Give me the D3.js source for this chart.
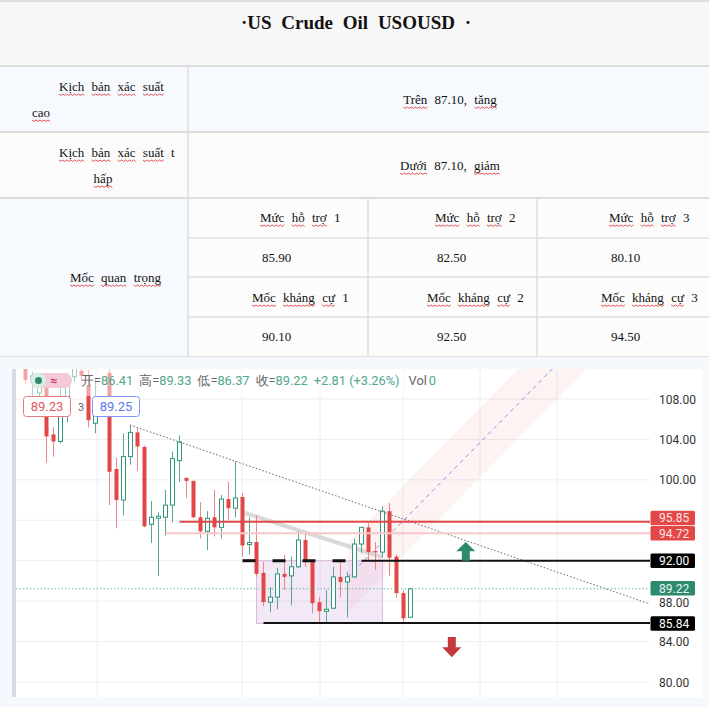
<!DOCTYPE html>
<html><head><meta charset="utf-8">
<script src="https://cdn.jsdelivr.net/npm/d3@7"></script>
<style>body{margin:0;background:#fff}svg{display:block}</style>
</head><body><svg id="c" width="709" height="707"></svg>
<script>
// ---------------- data ----------------
const titleText = "·US Crude Oil USOUSD ·";
const scenarioLabels = [["Kịch bản xác suất", "cao"], ["Kịch bản xác suất t", "hấp"]];
const scenarioTexts = ["Trên 87.10, tăng", "Dưới 87.10, giảm"];
const keyLabel = "Mốc quan trọng";
const supportLabels = ["Mức hỗ trợ 1", "Mức hỗ trợ 2", "Mức hỗ trợ 3"];
const supportValues = ["85.90", "82.50", "80.10"];
const resistanceLabels = ["Mốc kháng cự 1", "Mốc kháng cự 2", "Mốc kháng cự 3"];
const resistanceValues = ["90.10", "92.50", "94.50"];

const opens  = [111.3,109.9,108.6,109.6,104.5,103.8,107.9,110.2,110.8,109.4,105.6,107.7,110.6,101.07,98.0,102.3,104.7,103.25,95.6,96.2,96.3,97.5,101.9,100.2,99.9,96.3,94.9,96.3,95.3,98.1,97.2,98.3,93.6,93.85,90.8,87.9,88.4,90.7,90.5,91.4,94.05,91.9,87.9,87.0,87.3,90.4,89.9,90.4,93.65,95.3,92.95,92.85,96.9,92.4,88.8,86.41];
const highs  = [112.0,110.7,110.5,110.0,105.2,109.5,110.6,111.5,111.2,110.9,110.1,108.3,111.0,102.2,104.6,105.4,105.1,103.4,97.9,96.8,99.0,102.8,104.4,100.2,99.9,97.8,96.9,99.0,98.5,99.8,101.8,98.7,96.3,96.5,91.9,89.4,91.3,92.6,92.4,94.9,94.7,91.9,88.4,89.1,91.4,92.0,90.9,94.2,95.3,95.7,93.85,97.4,97.7,92.6,89.1,89.33];
const lows   = [109.5,108.1,108.0,101.7,102.3,103.6,105.7,109.7,109.8,105.2,104.6,106.6,97.5,95.2,96.5,101.5,100.9,95.3,93.75,90.5,94.5,95.8,99.8,98.2,96.2,94.2,93.06,94.4,94.2,96.0,96.3,92.4,92.6,90.4,87.5,86.9,87.2,89.1,87.6,91.3,91.4,86.8,85.8,85.8,87.2,88.4,86.4,90.3,92.8,92.0,91.1,92.3,90.5,88.3,85.8,86.37];
const closes = [109.9,110.3,109.9,104.3,103.8,106.4,109.8,111.2,110.3,105.9,107.7,108.0,100.8,98.0,102.3,104.7,103.3,95.4,96.3,96.4,97.5,102.1,103.75,99.9,96.3,94.9,96.2,95.3,98.1,97.2,98.2,93.5,93.8,90.7,87.9,88.4,90.7,90.4,91.4,94.05,91.9,87.8,87.0,87.2,90.4,89.9,90.4,93.65,95.3,92.85,92.85,96.9,92.3,88.8,86.3,89.22];

const priceTicks = [80, 84, 88, 92, 96, 100, 104, 108, 112];
const priceTickLabels = [80, 84, 88, 100, 104, 108];
const tickFormat = d3.format(".2f");
const resistanceLevel = 95.85, resistanceLevel2 = 94.72, pivotLevel = 92.00, lastPrice = 89.22, supportLevel = 85.84;
const legendNames = ["开", "高", "低", "收"];
const legendVals = ["86.41", "89.33", "86.37", "89.22"];
const legendChange = "+2.81 (+3.26%)";
const badgeVals = ["89.23", "3", "89.25"];
// drawings in (bar index, price)
const trendPts = [[14.93, 105.43], [89.2, 87.72]];
const greyTrendPts = [[31.36, 96.72], [50.9, 92.37]];
const channelStart = [46.07, 90.39], channelSlope = 0.705, channelHalf = 3.46, channelEnd = 82;
const boxRange = [[33.0, 92.0], [51.0, 85.8]];
const upArrow = [62.9, 92.0, 93.85];
const downArrow = [60.9, 84.45, 82.45];

// ---------------- layout ----------------
const svg = d3.select("#c");
const W = 709;
const serif = "'Liberation Serif','Times New Roman',serif";
const sans = "Roboto,'Noto Sans','Liberation Sans',sans-serif";

// table backgrounds
svg.append("rect").attr("x",0).attr("y",0).attr("width",W).attr("height",66).attr("fill","#f7f7f7");
svg.append("rect").attr("x",0).attr("y",66).attr("width",W).attr("height",66).attr("fill","#f6f9fe");
svg.append("rect").attr("x",0).attr("y",132).attr("width",W).attr("height",66).attr("fill","#fbfbfb");
svg.append("rect").attr("x",0).attr("y",198).attr("width",188).attr("height",159).attr("fill","#f6f9fe");
svg.append("rect").attr("x",188).attr("y",198).attr("width",W-188).attr("height",159).attr("fill","#fcfcfc");
const border = "#dedede";
[1,66,132,198,357].forEach(y => svg.append("line").attr("x1",0).attr("x2",W).attr("y1",y).attr("y2",y).attr("stroke",border).attr("stroke-width",2));
svg.append("line").attr("x1",188).attr("x2",188).attr("y1",66).attr("y2",357).attr("stroke",border).attr("stroke-width",1.5);
[238,277,317].forEach(y => svg.append("line").attr("x1",188).attr("x2",W).attr("y1",y).attr("y2",y).attr("stroke",border).attr("stroke-width",1.5));
[368,537].forEach(x => svg.append("line").attr("x1",x).attr("x2",x).attr("y1",198).attr("y2",357).attr("stroke",border).attr("stroke-width",1.5));

const noSquiggle = w => /^[0-9.,·]+$/.test(w) || w === "t" || w.length === 0;
function words(str, x, y, opt) {
  const o = Object.assign({size:13, weight:"normal", gap:4, anchor:"start", squiggle:true, color:"#111"}, opt||{});
  const g = svg.append("g");
  const parts = str.split(" ");
  const els = parts.map(p => g.append("text").text(p).attr("y", y)
      .attr("font-family", serif).attr("font-size", o.size).attr("font-weight", o.weight).attr("fill", o.color));
  const ws = els.map(e => e.node().getComputedTextLength());
  const space = o.size * 0.25 + o.gap;
  const total = d3.sum(ws) + space * (ws.length - 1);
  let cx = o.anchor === "middle" ? x - total / 2 : x;
  els.forEach((e, i) => {
    e.attr("x", cx);
    if (o.squiggle && !noSquiggle(parts[i])) {
      let d = "", n = Math.max(2, Math.round(ws[i] / 2));
      for (let k = 0; k <= n; k++) d += (k ? "L" : "M") + (cx + k * ws[i] / n) + "," + (y + 3 + (k % 2 ? 1.4 : 0));
      g.append("path").attr("d", d).attr("fill","none").attr("stroke","#e0282a").attr("stroke-width",0.8);
    }
    cx += ws[i] + space;
  });
}
words(titleText, 356, 29, {size:19, weight:"bold", gap:5, anchor:"middle", squiggle:false});
words(scenarioLabels[0][0], 59, 91);
words(scenarioLabels[0][1], 32, 117);
words(scenarioTexts[0], 450, 104, {anchor:"middle"});
words(scenarioLabels[1][0], 59, 157);
words(scenarioLabels[1][1], 103, 183, {anchor:"middle"});
words(scenarioTexts[1], 450, 170, {anchor:"middle"});
words(keyLabel, 70, 282);
const colX = [188, 368, 537];
supportLabels.forEach((t,i) => words(t, colX[i] + (i===1?67:72), 222));
supportValues.forEach((t,i) => words(t, colX[i] + (i===1?69:74), 262));
resistanceLabels.forEach((t,i) => words(t, colX[i] + (i===1?59:64), 302));
resistanceValues.forEach((t,i) => words(t, colX[i] + (i===1?69:74), 341));

// ---------------- chart ----------------
svg.append("rect").attr("x",0).attr("y",357).attr("width",W).attr("height",350).attr("fill","#f5f8fd");
const P = {l:16, r:650, t:369, b:697};
svg.append("rect").attr("x",P.l).attr("y",P.t).attr("width",703-P.l).attr("height",P.b-P.t).attr("fill","#fff");
svg.append("rect").attr("x",12).attr("y",P.t).attr("width",4).attr("height",P.b-P.t).attr("fill","#d7dbe6");

const x = d3.scaleLinear().domain([0, 55]).range([25.5, 410.5]);
const y = d3.scaleLinear().domain([80, 108]).range([682, 399]);
svg.append("defs").append("clipPath").attr("id","pc").append("rect")
  .attr("x",P.l).attr("y",P.t).attr("width",P.r-P.l).attr("height",P.b-P.t);
const plot = svg.append("g").attr("clip-path","url(#pc)");

// grid
priceTicks.forEach(v => plot.append("line").attr("x1",P.l).attr("x2",P.r).attr("y1",y(v)).attr("y2",y(v)).attr("stroke","#eeeeee"));
[97, 242, 320, 403, 480, 557].forEach(px => plot.append("line").attr("x1",px).attr("x2",px).attr("y1",P.t).attr("y2",P.b).attr("stroke","#eeeeee"));

// channel
const cEnd = [channelEnd, channelStart[1] + channelSlope * (channelEnd - channelStart[0])];
plot.append("path").attr("d", d3.line()([
  [x(channelStart[0]), y(channelStart[1] + channelHalf)], [x(cEnd[0]), y(cEnd[1] + channelHalf)],
  [x(cEnd[0]), y(cEnd[1] - channelHalf)], [x(channelStart[0]), y(channelStart[1] - channelHalf)]]) + "Z")
  .attr("fill","rgba(242,120,120,0.09)");
plot.append("line").attr("x1",x(channelStart[0])).attr("y1",y(channelStart[1])).attr("x2",x(cEnd[0])).attr("y2",y(cEnd[1]))
  .attr("stroke","#8193f2").attr("stroke-width",1).attr("stroke-dasharray","4,4");

// purple box
plot.append("rect").attr("x",x(boxRange[0][0])).attr("y",y(boxRange[0][1]))
  .attr("width",x(boxRange[1][0])-x(boxRange[0][0])).attr("height",y(boxRange[1][1])-y(boxRange[0][1]))
  .attr("fill","rgba(196,140,210,0.2)").attr("stroke","#dcb8e2");

// grey thick trend
plot.append("line").attr("x1",x(greyTrendPts[0][0])).attr("y1",y(greyTrendPts[0][1])).attr("x2",x(greyTrendPts[1][0])).attr("y2",y(greyTrendPts[1][1]))
  .attr("stroke","#cfcfcf").attr("stroke-width",4).attr("stroke-opacity",0.8);

// candles
const up = "#2f9478", dn = "#e24646";
const idx = d3.range(opens.length);
plot.selectAll(".wick").data(idx).join("line")
  .attr("x1", i => x(i)).attr("x2", i => x(i)).attr("y1", i => y(highs[i])).attr("y2", i => y(lows[i]))
  .attr("stroke", i => closes[i] >= opens[i] ? "#55a88f" : "#ee8585").attr("stroke-width",1);
plot.selectAll(".body").data(idx).join("rect")
  .attr("x", i => x(i) - 2).attr("width", 4)
  .attr("y", i => y(Math.max(opens[i], closes[i])))
  .attr("height", i => Math.max(1.2, Math.abs(y(opens[i]) - y(closes[i]))))
  .attr("fill", i => closes[i] >= opens[i] ? "#fff" : dn)
  .attr("stroke", i => closes[i] >= opens[i] ? up : "none").attr("stroke-width",1);

// legend overlay wash
plot.append("rect").attr("x",P.l).attr("y",P.t).attr("width",430).attr("height",27).attr("fill","#fff").attr("opacity",0.5);

// level lines
plot.append("line").attr("x1",x(trendPts[0][0])).attr("y1",y(trendPts[0][1])).attr("x2",x(trendPts[1][0])).attr("y2",y(trendPts[1][1]))
  .attr("stroke","#666").attr("stroke-width",1).attr("stroke-dasharray","1.5,2");
plot.append("line").attr("x1",x(20)).attr("x2",P.r).attr("y1",y(resistanceLevel2)).attr("y2",y(resistanceLevel2)).attr("stroke","#f6c8c8").attr("stroke-width",2);
plot.append("line").attr("x1",x(22)).attr("x2",P.r).attr("y1",y(resistanceLevel)).attr("y2",y(resistanceLevel)).attr("stroke","#e24848").attr("stroke-width",2);
plot.append("line").attr("x1",x(31)).attr("x2",x(48)).attr("y1",y(pivotLevel)).attr("y2",y(pivotLevel)).attr("stroke","#111").attr("stroke-width",3).attr("stroke-dasharray","13,17");
plot.append("line").attr("x1",x(48)).attr("x2",P.r).attr("y1",y(pivotLevel)).attr("y2",y(pivotLevel)).attr("stroke","#111").attr("stroke-width",2);
plot.append("line").attr("x1",x(34)).attr("x2",P.r).attr("y1",y(supportLevel)).attr("y2",y(supportLevel)).attr("stroke","#111").attr("stroke-width",2);
plot.append("line").attr("x1",P.l).attr("x2",P.r).attr("y1",y(lastPrice)).attr("y2",y(lastPrice)).attr("stroke","#6cb9a0").attr("stroke-width",1).attr("stroke-dasharray","1.5,2");

// arrows
function arrow(xi, v0, v1, color) {
  const cx = x(xi), y0 = y(v0), y1 = y(v1), dir = Math.sign(y1 - y0), L = Math.abs(y1 - y0);
  const hs = L * 0.5;
  const pts = [[cx-4, y0], [cx+4, y0], [cx+4, y1 - dir*hs], [cx+9.5, y1 - dir*hs], [cx, y1], [cx-9.5, y1 - dir*hs], [cx-4, y1 - dir*hs]];
  plot.append("path").attr("d", d3.line()(pts) + "Z").attr("fill", color);
}
arrow(upArrow[0], upArrow[1], upArrow[2], "#2e8a6f");
arrow(downArrow[0], downArrow[1], downArrow[2], "#c4393b");

// price axis labels
priceTickLabels.forEach(v => svg.append("text").attr("x",659).attr("y",y(v)+(v === 88 ? 6 : 4.5)).text(tickFormat(v))
  .attr("font-family",sans).attr("font-size",12).attr("fill","#333"));
function tag(v, dy, bg, fg) {
  const cy = y(v) + dy;
  svg.append("rect").attr("x",650.5).attr("y",cy-7.2).attr("width",44.5).attr("height",14.4).attr("rx",1.5).attr("fill",bg);
  svg.append("text").attr("x",659).attr("y",cy+4.3).text(tickFormat(v)).attr("font-family",sans).attr("font-size",12).attr("fill",fg);
}
tag(resistanceLevel, -3.8, "#e24848", "#fde6e6");
tag(resistanceLevel2, 0, "#e24848", "#fde6e6");
tag(pivotLevel, 0, "#000", "#fff");
tag(lastPrice, -0.5, "#2e8a6f", "#e8f6f0");
tag(supportLevel, 0.6, "#000", "#fff");

// legend
const lg = svg.append("g");
lg.append("rect").attr("x",30).attr("y",373).attr("width",42).attr("height",15).attr("rx",7.5).attr("fill","#f6c9d8");
lg.append("circle").attr("cx",38.5).attr("cy",380.5).attr("r",7.5).attr("fill","#d7eee6");
lg.append("circle").attr("cx",38.5).attr("cy",380.5).attr("r",3.5).attr("fill","#2e8a6f");
lg.append("text").attr("x",50).attr("y",385).text("≈").attr("font-family",sans).attr("font-size",13).attr("fill","#c2185b");
const lt = lg.append("text").attr("x",81).attr("y",385).attr("font-family",sans).attr("font-size",12.8);
legendNames.forEach((n,i) => {
  lt.append("tspan").text(n + "=").attr("fill","#666").attr("dx", i ? 6 : 0);
  lt.append("tspan").text(legendVals[i]).attr("fill","#4fa78c");
});
lt.append("tspan").text(legendChange).attr("fill","#4fa78c").attr("dx",6);
lt.append("tspan").text("Vol").attr("fill","#666").attr("dx",9);
lt.append("tspan").text("0").attr("fill","#4fa78c").attr("dx",2);

// badges
svg.append("rect").attr("x",23.5).attr("y",396.5).attr("width",47).attr("height",20).attr("rx",3).attr("fill","#fff").attr("stroke","#e57c7c");
svg.append("text").attr("x",47).attr("y",411).attr("text-anchor","middle").text(badgeVals[0]).attr("font-family",sans).attr("font-size",13).attr("fill","#e05a5a");
svg.append("text").attr("x",81).attr("y",411).attr("text-anchor","middle").text(badgeVals[1]).attr("font-family",sans).attr("font-size",11).attr("fill","#666");
svg.append("rect").attr("x",92.5).attr("y",396.5).attr("width",47).attr("height",20).attr("rx",3).attr("fill","#fff").attr("stroke","#7c94ff");
svg.append("text").attr("x",116).attr("y",411).attr("text-anchor","middle").text(badgeVals[2]).attr("font-family",sans).attr("font-size",13).attr("fill","#5b78f0");
</script></body></html>
